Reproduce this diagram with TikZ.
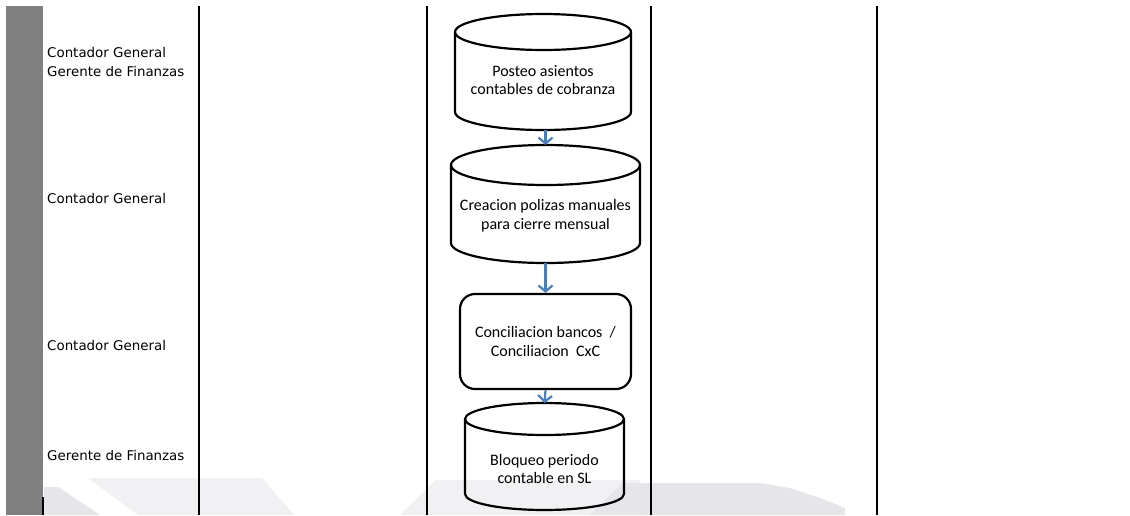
\documentclass[tikz,border=0pt]{standalone}
\usepackage{fontspec}
\setmainfont{Carlito}
\newfontfamily\lanefont{DejaVu Sans}
\usetikzlibrary{arrows.meta}
\definecolor{lanegray}{HTML}{808080}
\definecolor{flowblue}{HTML}{4A7EBB}
\definecolor{markA}{HTML}{E5E5EA}
\definecolor{markB}{HTML}{F1F1F4}
\tikzset{
  outline/.style={draw=black, line width=2.2pt},
  lane/.style={draw=black, line width=2pt},
  boxtext/.style={align=center, inner sep=0pt, font=\fontsize{16}{18.8}\selectfont},
  span/.style={inner sep=0pt, draw=none},
  role/.style={anchor=west, align=left, inner sep=0pt, font=\lanefont\fontsize{13.4}{19}\selectfont},
  flow/.style={draw=flowblue, line width=2.2pt, -{Straight Barb[length=6pt, width=14pt, line width=2.2pt]}},
  stepbox/.style={outline, rounded corners=15pt, inner sep=0pt, align=center,
    font=\fontsize{16}{18.8}\selectfont}
}
% database symbol: name, centre x, top y, bottom y, x radius, y radius
\newcommand\dbcyl[6]{%
  \node[span, minimum width=2*#5, minimum height=#4-#3, anchor=north] (#1) at (#2,#3) {};
  \draw[outline] (#2,#3+#6) ellipse[x radius=#5, y radius=#6];
  \draw[outline] (#2-#5,#3+#6) -- (#2-#5,#4-#6)
     arc[start angle=180, end angle=0, x radius=#5, y radius=#6] -- (#2+#5,#3+#6);
}
\begin{document}
\begin{tikzpicture}[x=1pt, y=-1pt]
\useasboundingbox (0,0) rectangle (1130,515);
\fill[white] (0,0) rectangle (1130,515);

% faint background marks along the bottom edge
\fill[markB] (88,478) -- (262,478) -- (294,515) -- (138,515) -- cycle;
\fill[markB] (400,515) -- (436,480) -- (640,480) -- (640,515) -- cycle;
\fill[markA] (44,487) -- (58,487) -- (100,515) -- (44,515) -- cycle;
\fill[markA] (590,515) -- (622,483) -- (760,483) -- (790,488) -- (820,498) -- (845,508) -- (845,515) -- cycle;

% role column
\fill[lanegray] (6,6) rectangle (43,515);
\draw[line width=1.5pt] (43,497) -- (43,515);

% lane separators
\foreach \lx in {199,427,651,877} \draw[lane] (\lx,6) -- (\lx,515);

% roles
\node[role] (r1) at (47,61.5) {Contador General\\Gerente de Finanzas};
\node[role] (r2) at (47,198) {Contador General};
\node[role] (r3) at (47,345) {Contador General};
\node[role] (r4) at (47,455) {Gerente de Finanzas};

% process steps
\dbcyl{c1}{543}{14}{130}{88}{18}
\node[boxtext] (t1) at (543,80) {Posteo asientos\\contables de cobranza};

\dbcyl{c2}{545.5}{145}{263}{94.5}{20}
\node[boxtext] (t2) at (545.5,215.5) {Creacion polizas manuales\\para cierre mensual};

\node[stepbox, minimum width=171, minimum height=95] (r) at (545.5,341.5)
  {Conciliacion bancos~~/\\Conciliacion~~CxC};

\dbcyl{c4}{544.5}{403}{510}{79.5}{16}
\node[boxtext] (t4) at (544.5,469) {Bloqueo periodo\\contable en SL};

% flow
\draw[flow] (c2.north |- c1.south) -- (c2.north);
\draw[flow] (c2.south) -- (r.north);
\draw[flow] (r.south) -- (c4.north);
\end{tikzpicture}
\end{document}
